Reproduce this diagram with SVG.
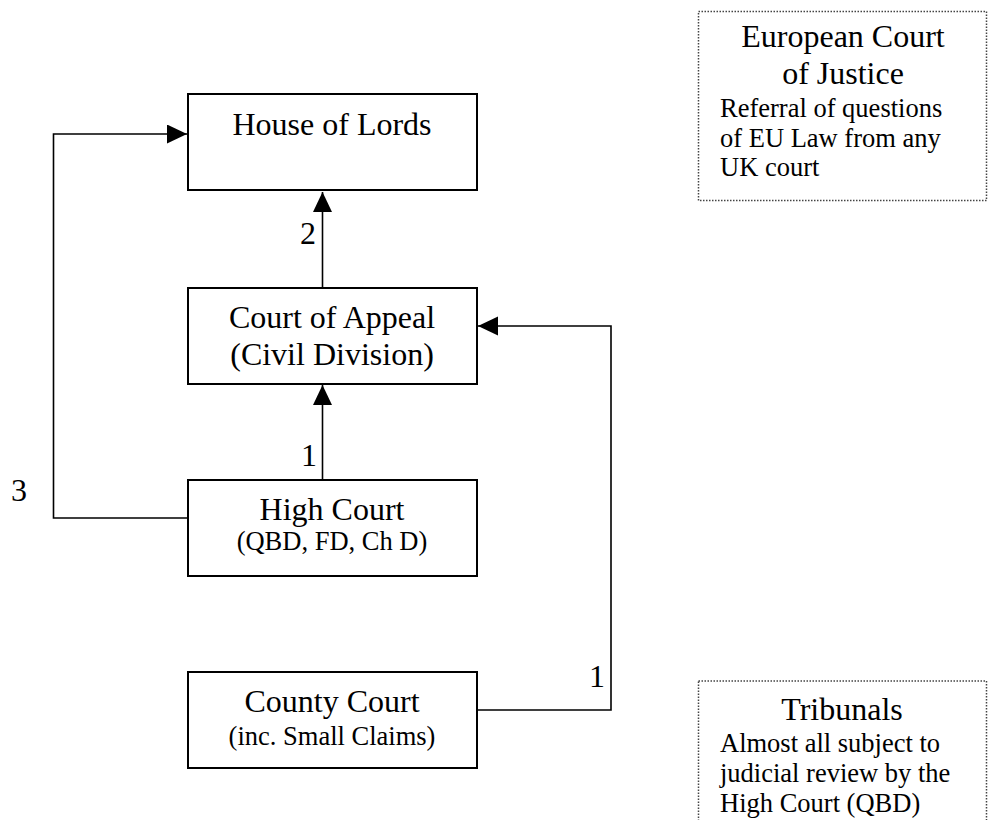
<svg xmlns="http://www.w3.org/2000/svg" width="988" height="820" viewBox="0 0 988 820">
<style>
.box{fill:#fff;stroke:#000;stroke-width:2}
.dot{fill:#fff;stroke:#444;stroke-width:1.5;stroke-dasharray:1.5 1.5}
.con{fill:none;stroke:#000;stroke-width:1.6}
text{font-family:"Liberation Serif","Times New Roman",serif;fill:#000}
.big{font-size:32px;text-anchor:middle}
.sm{font-size:26.5px;text-anchor:middle}
.note{font-size:26.5px}
.lbl{font-size:32px}
</style>
<defs>
<marker id="ah" markerUnits="userSpaceOnUse" markerWidth="20" markerHeight="20" refX="20" refY="9.5" orient="auto">
<path d="M0,0 L20,9.5 L0,19 z" fill="#000"/>
</marker>
</defs>
<rect width="988" height="820" fill="#fff"/>
<g id="connectors">
<line class="con" x1="322.5" y1="288" x2="322.5" y2="192" marker-end="url(#ah)"/>
<line class="con" x1="322.5" y1="480" x2="322.5" y2="385" marker-end="url(#ah)"/>
<polyline class="con" points="188,518 53.5,518 53.5,134 187,134" marker-end="url(#ah)"/>
<polyline class="con" points="477,710 611,710 611,326 478,326" marker-end="url(#ah)"/>
<text class="lbl" x="300" y="244">2</text>
<text class="lbl" x="301" y="466">1</text>
<text class="lbl" x="11" y="501">3</text>
<text class="lbl" x="589" y="687">1</text>
</g>
<g id="house-of-lords">
<rect class="box" x="188" y="94" width="289" height="96"/>
<text class="big" x="332" y="135">House of Lords</text>
</g>
<g id="court-of-appeal">
<rect class="box" x="188" y="288" width="289" height="96"/>
<text class="big" x="332" y="328">Court of Appeal</text>
<text class="big" x="332" y="365">(Civil Division)</text>
</g>
<g id="high-court">
<rect class="box" x="188" y="480" width="289" height="96"/>
<text class="big" x="332" y="520">High Court</text>
<text class="sm" x="332" y="550">(QBD, FD, Ch D)</text>
</g>
<g id="county-court">
<rect class="box" x="188" y="672" width="289" height="96"/>
<text class="big" x="332" y="712">County Court</text>
<text class="sm" x="332" y="745">(inc. Small Claims)</text>
</g>
<g id="european-court">
<rect class="dot" x="698.5" y="11.5" width="288" height="189"/>
<text class="big" x="843" y="47">European Court</text>
<text class="big" x="843" y="84">of Justice</text>
<text class="note" x="720" y="117">Referral of questions</text>
<text class="note" x="720" y="146.5">of EU Law from any</text>
<text class="note" x="720" y="176">UK court</text>
</g>
<g id="tribunals">
<rect class="dot" x="698.5" y="681" width="288" height="160"/>
<text class="big" x="842" y="720">Tribunals</text>
<text class="note" x="720" y="752">Almost all subject to</text>
<text class="note" x="720" y="782">judicial review by the</text>
<text class="note" x="720" y="812">High Court (QBD)</text>
</g>
</svg>
